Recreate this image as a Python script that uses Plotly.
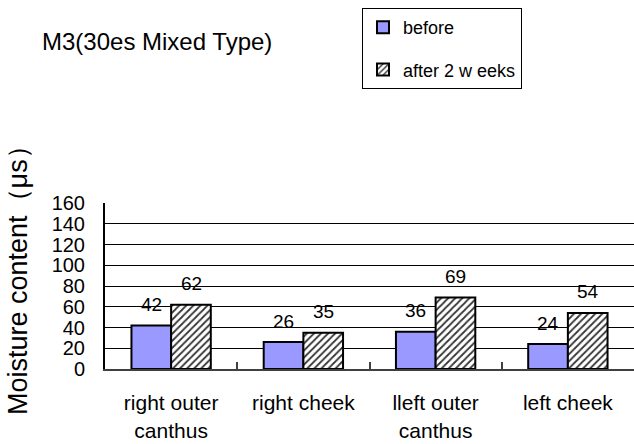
import plotly.graph_objects as go

categories = ["right outer<br>canthus", "right cheek", "lleft outer<br>canthus", "left cheek"]
before = [42, 26, 36, 24]
after = [62, 35, 69, 54]
series_names = ["before", "after 2 w eeks"]
y_ticks = [0, 20, 40, 60, 80, 100, 120, 140, 160]

FONT = "Liberation Sans, Arial, sans-serif"

fig = go.Figure()

fig.add_trace(go.Bar(
    x=categories, y=before, name=series_names[0],
    legendgroup="g1",
    marker=dict(color="#9999FF", line=dict(color="black", width=2)),
))
fig.add_trace(go.Bar(
    x=categories, y=after, name=series_names[1],
    legendgroup="g2",
    marker=dict(
        color="white",
        line=dict(color="black", width=2),
        pattern=dict(shape="/", fgcolor="#333333", bgcolor="white",
                     size=5, solidity=0.35, fillmode="replace"),
    ),
))

# value labels floating above each bar
for vals, dx in ((before, -20), (after, 20)):
    for cat, v in zip(categories, vals):
        fig.add_annotation(
            x=cat, y=v, text=str(v), showarrow=False,
            xshift=dx, yshift=21, yanchor="middle",
            font=dict(family=FONT, size=19, color="black"),
        )

# y-axis title as an annotation so it can be nudged up a little
fig.add_annotation(
    text="Moisture content（μs）", textangle=-90, showarrow=False,
    xref="paper", yref="paper", x=(18 - 105) / 529, y=0.5,
    xanchor="center", yanchor="middle", yshift=12,
    font=dict(family=FONT, size=27, color="black"),
)

fig.update_layout(
    width=634, height=444,
    margin=dict(l=105, r=0, t=203, b=75, autoexpand=False),
    paper_bgcolor="white", plot_bgcolor="white",
    barmode="group", bargap=0.4, bargroupgap=0,
    title=dict(text="M3(30es Mixed Type)", x=42 / 634, xref="container", xanchor="left",
               y=1 - 42 / 444, yref="container", yanchor="middle",
               pad=dict(l=0, r=0, t=0, b=0),
               font=dict(family=FONT, size=24, color="black")),
    legend=dict(x=(362 - 105) / 529, y=(369 - 8) / 166, xanchor="left", yanchor="top",
                bordercolor="black", borderwidth=1, bgcolor="white",
                tracegroupgap=16, traceorder="grouped",
                font=dict(family=FONT, size=18, color="black")),
    showlegend=True,
)

fig.update_xaxes(
    automargin=False,
    showline=True, linecolor="#404040", linewidth=2,
    ticks="inside", tickson="boundaries", ticklen=7, tickcolor="#404040", tickwidth=2,
    tickfont=dict(family=FONT, size=21, color="black"),
    ticklabelstandoff=14,
)
fig.update_yaxes(
    automargin=False,
    range=[0, 160], tickvals=y_ticks,
    showgrid=True, gridcolor="black", gridwidth=1,
    showline=True, linecolor="black", linewidth=2,
    ticks="", ticklabelstandoff=14,
    tickfont=dict(family=FONT, size=20, color="black"),
    zeroline=False,
)

fig.write_html("out.html", config={"displayModeBar": False},
               post_script="document.body.style.margin='0';")
